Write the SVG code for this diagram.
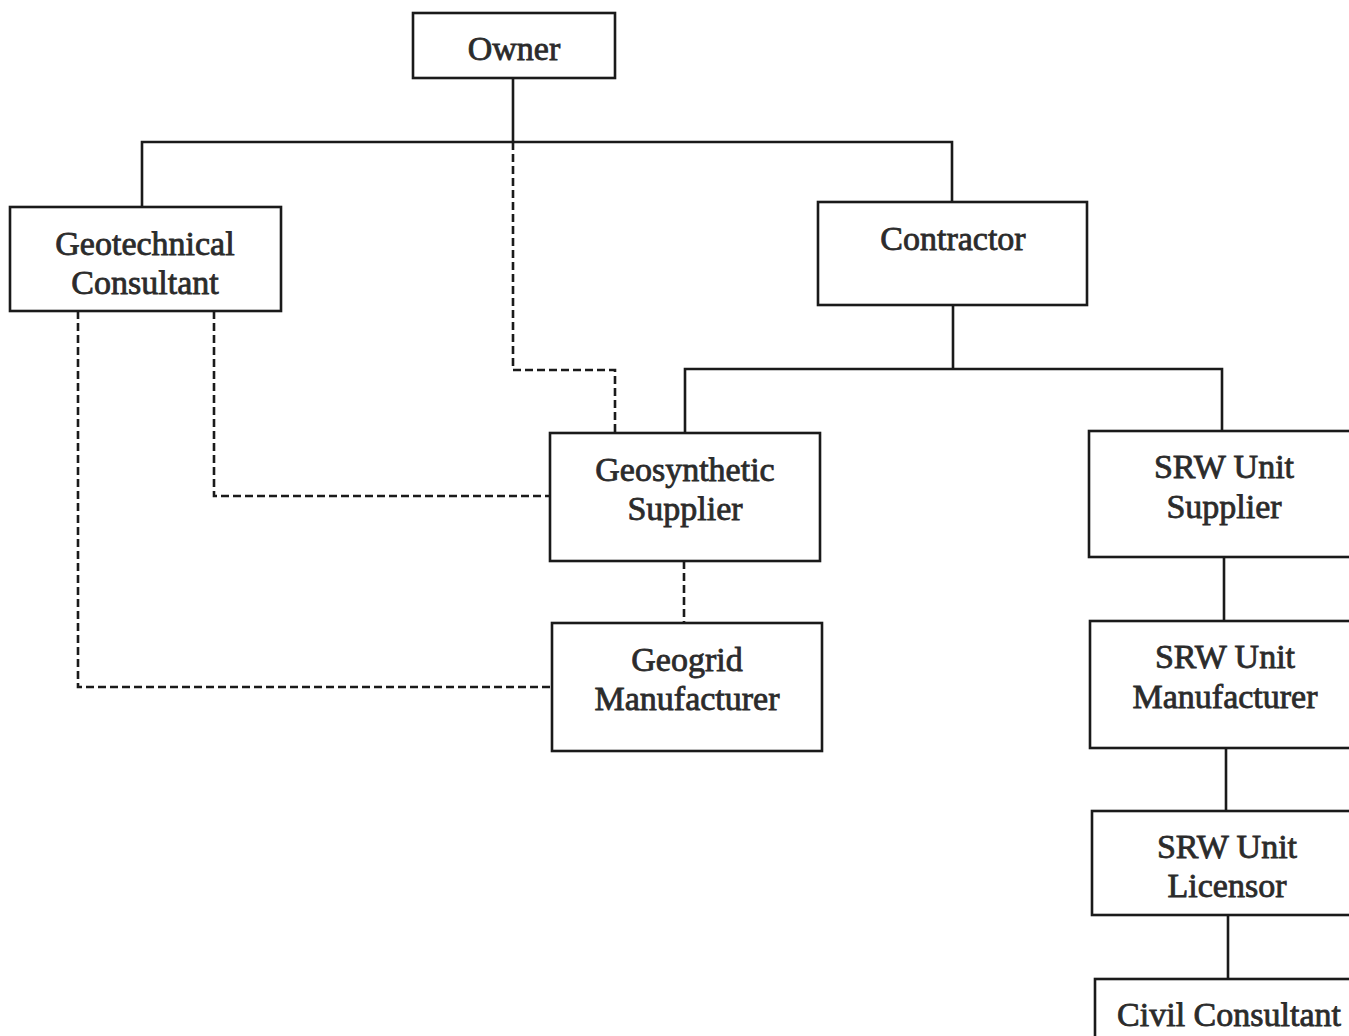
<svg xmlns="http://www.w3.org/2000/svg" width="1349" height="1036" viewBox="0 0 1349 1036">
  <style>
    .box { fill: #ffffff; stroke: #1a1a1a; stroke-width: 2.6; }
    .label { font-family: "Liberation Serif", "Times New Roman", serif; font-size: 34px; fill: #2b2b2b; stroke: #2b2b2b; stroke-width: 0.8; text-anchor: middle; }
    .solid { fill: none; stroke: #1a1a1a; stroke-width: 2.6; }
    .dashed { fill: none; stroke: #1a1a1a; stroke-width: 2.6; stroke-dasharray: 8 4; }
  </style>
  <rect width="1349" height="1036" fill="#ffffff"/>

  <!-- connectors -->
  <g id="connectors">
    <!-- Owner to Geotechnical Consultant and Contractor -->
    <polyline class="solid" points="513,78 513,142"/>
    <polyline class="solid" points="142,207 142,142 952,142 952,202"/>
    <!-- Contractor to suppliers -->
    <polyline class="solid" points="953,305 953,369"/>
    <polyline class="solid" points="685,433 685,369 1222,369 1222,431"/>
    <!-- SRW chain -->
    <line class="solid" x1="1224" y1="557" x2="1224" y2="621"/>
    <line class="solid" x1="1226" y1="748" x2="1226" y2="811"/>
    <line class="solid" x1="1228" y1="915" x2="1228" y2="979"/>
    <!-- informal links -->
    <polyline class="dashed" points="513,142 513,370 615,370 615,433"/>
    <polyline class="dashed" points="214,311 214,496 550,496"/>
    <polyline class="dashed" points="78,311 78,687 552,687"/>
    <line class="dashed" x1="684" y1="561" x2="684" y2="623"/>
  </g>

  <g id="owner">
    <rect class="box" x="413" y="13" width="202" height="65"/>
    <text class="label" x="514" y="60">Owner</text>
  </g>

  <g id="geotechnical-consultant">
    <rect class="box" x="10" y="207" width="271" height="104"/>
    <text class="label" x="145" y="255">Geotechnical</text>
    <text class="label" x="145" y="294">Consultant</text>
  </g>

  <g id="contractor">
    <rect class="box" x="818" y="202" width="269" height="103"/>
    <text class="label" x="953" y="250">Contractor</text>
  </g>

  <g id="geosynthetic-supplier">
    <rect class="box" x="550" y="433" width="270" height="128"/>
    <text class="label" x="685" y="481">Geosynthetic</text>
    <text class="label" x="685" y="520">Supplier</text>
  </g>

  <g id="geogrid-manufacturer">
    <rect class="box" x="552" y="623" width="270" height="128"/>
    <text class="label" x="687" y="671">Geogrid</text>
    <text class="label" x="687" y="710">Manufacturer</text>
  </g>

  <g id="srw-unit-supplier">
    <rect class="box" x="1089" y="431" width="270" height="126"/>
    <text class="label" x="1224" y="478">SRW Unit</text>
    <text class="label" x="1224" y="518">Supplier</text>
  </g>

  <g id="srw-unit-manufacturer">
    <rect class="box" x="1090" y="621" width="270" height="127"/>
    <text class="label" x="1225" y="668">SRW Unit</text>
    <text class="label" x="1225" y="708">Manufacturer</text>
  </g>

  <g id="srw-unit-licensor">
    <rect class="box" x="1092" y="811" width="270" height="104"/>
    <text class="label" x="1227" y="858">SRW Unit</text>
    <text class="label" x="1227" y="897">Licensor</text>
  </g>

  <g id="civil-consultant">
    <rect class="box" x="1095" y="979" width="270" height="80"/>
    <text class="label" x="1229" y="1026">Civil Consultant</text>
  </g>
</svg>
